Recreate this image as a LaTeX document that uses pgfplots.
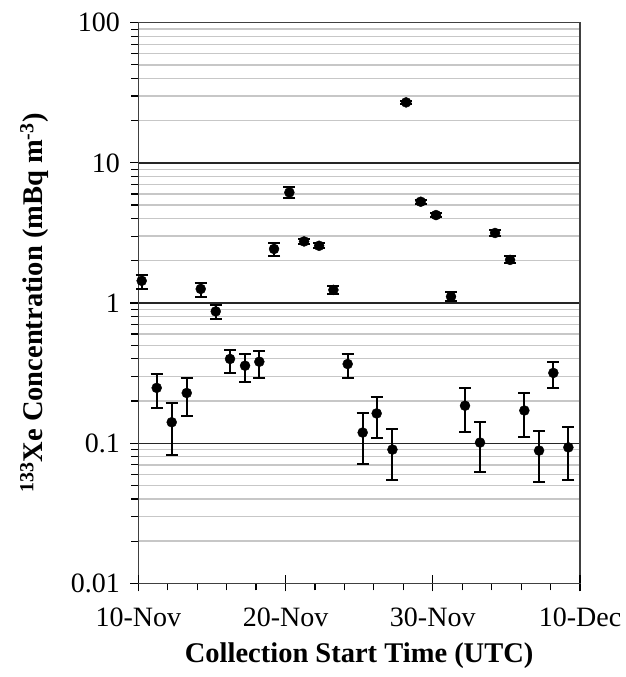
\documentclass[border=0pt]{standalone}
\usepackage{fontspec}
\setmainfont{Liberation Serif}
\usepackage{pgfplots}
\pgfplotsset{compat=1.18}
\usepackage{pgfplotstable}

\pgfplotstableread{
x y ep em
0.23 1.44 0.15 0.18
1.25 0.248 0.064 0.070
2.27 0.141 0.053 0.0582
3.29 0.228 0.064 0.071
4.24 1.26 0.14 0.15
5.26 0.871 0.099 0.102
6.23 0.399 0.066 0.081
7.25 0.357 0.076 0.082
8.22 0.381 0.076 0.089
9.22 2.43 0.23 0.26
10.26 6.15 0.53 0.54
11.26 2.75 0.13 0.13
12.28 2.56 0.12 0.11
13.25 1.24 0.09 0.08
14.22 0.367 0.066 0.075
15.24 0.119 0.044 0.048
16.19 0.163 0.052 0.054
17.26 0.090 0.036 0.035
18.19 27.0 0.6 0.6
19.18 5.28 0.17 0.18
20.22 4.24 0.16 0.16
21.24 1.11 0.08 0.07
22.19 0.185 0.063 0.064
23.21 0.101 0.041 0.039
24.23 3.16 0.14 0.14
25.25 2.03 0.12 0.11
26.22 0.171 0.057 0.060
27.22 0.0885 0.0345 0.0359
28.19 0.317 0.064 0.069
29.21 0.0933 0.0377 0.0383
}\xedata

\begin{document}
\begin{tikzpicture}
\path[use as bounding box] (-138.3pt,-93.7pt) rectangle (487.7pt,583.3pt);
\begin{axis}[
  at={(0pt,0pt)}, anchor=south west,
  scale only axis, width=441.7pt, height=560.6pt,
  ymode=log, ymin=0.01, ymax=100, xmin=0, xmax=30,
  xtick={0,10,20,30}, xticklabels={10-Nov,20-Nov,30-Nov,10-Dec},
  minor x tick num=4,
  ytick={0.01,0.1,1,10,100}, yticklabels={0.01,0.1,1,10,100},
  tick align=outside, xtick pos=bottom, ytick pos=left,
  major tick length=8pt, minor tick length=7pt,
  ymajorgrids, yminorgrids, xmajorgrids=false,
  major grid style={black!85, line width=1.3pt},
  minor grid style={black!22, line width=1.3pt},
  axis line style={black!75, line width=1.2pt},
  tick style={black, line width=1.2pt},
  ticklabel style={font=\fontsize{28}{33}\selectfont},
  xticklabel style={anchor=base, yshift=-35pt},
  yticklabel style={anchor=east, xshift=-7pt},
  label style={font=\bfseries\fontsize{28.5}{34}\selectfont},
  xlabel={Collection Start Time (UTC)},
  ylabel={\textsuperscript{133}Xe Concentration (mBq m\textsuperscript{-3})},
  xlabel style={at={(axis description cs:0.5,-0.1404)}, anchor=base},
  ylabel style={at={(axis description cs:-0.2355,0.5)}, anchor=center},
  extra x ticks={0,10,20,30}, extra x tick labels={},
  extra x tick style={tick align=inside, major tick length=8pt, grid=none},
  clip=false,
]
\addplot[only marks, mark=*, mark size=5pt, black,
  error bars/.cd, y dir=both, y explicit,
  error bar style={line width=2pt, black},
  error mark=-,
  error mark options={rotate=90, line width=2pt, mark size=6pt, black}]
  table[x=x, y=y, y error plus=ep, y error minus=em] {\xedata};
\end{axis}
\end{tikzpicture}
\end{document}
